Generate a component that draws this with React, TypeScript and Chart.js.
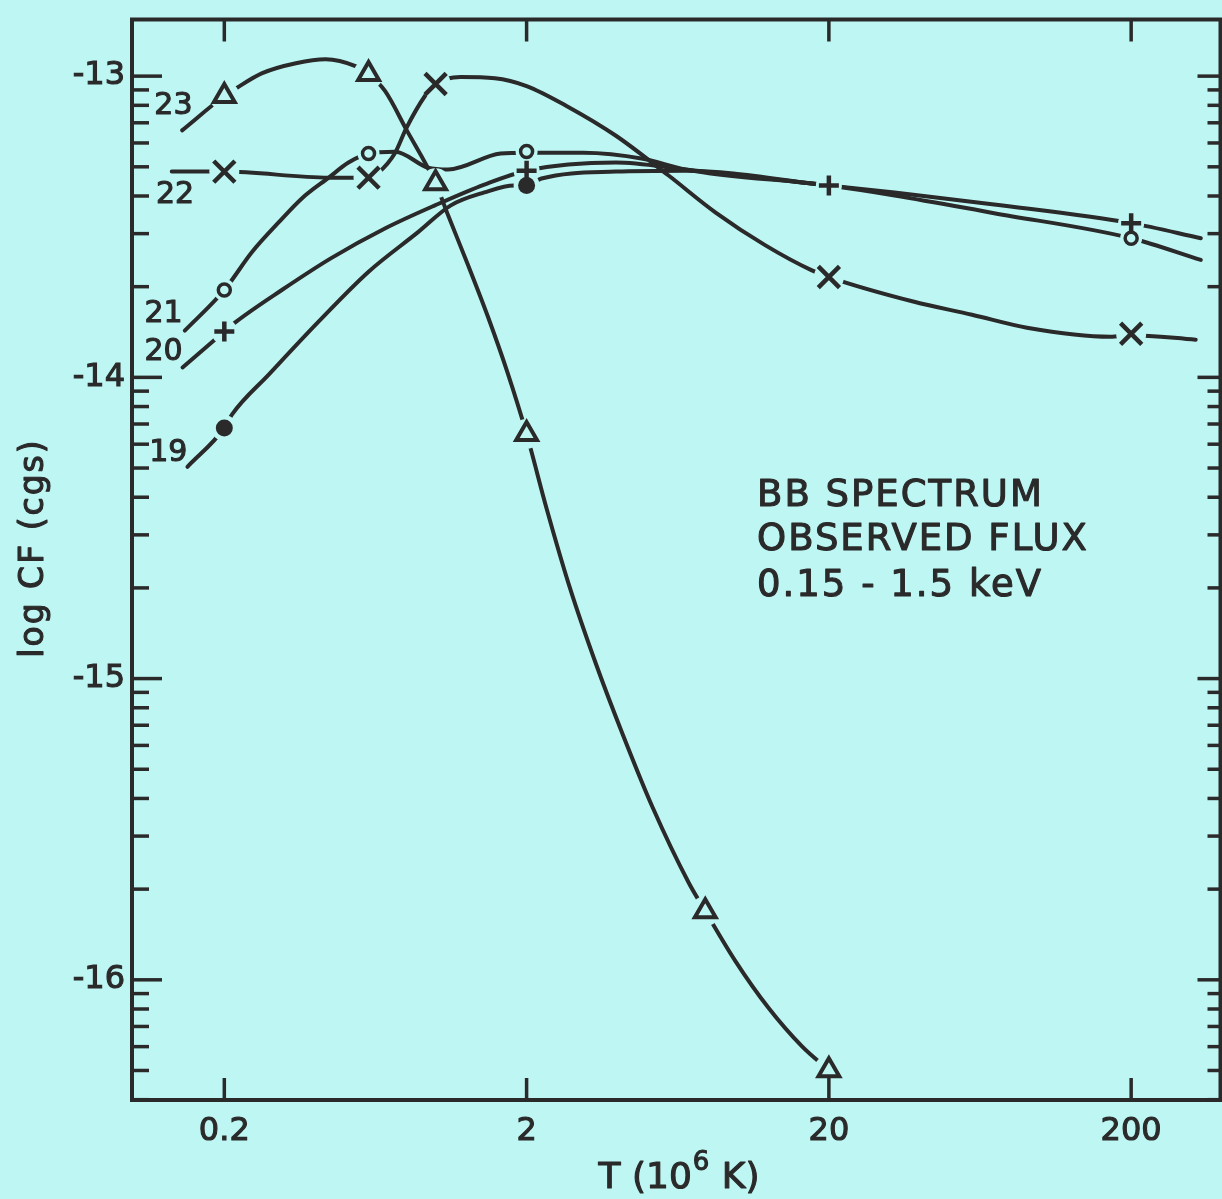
import { useEffect, useRef } from 'react';
import { Chart, registerables } from 'chart.js';

Chart.register(...registerables);

const BG = '#bef6f3';
const INK = '#2a2a2a';
const FONT = '"DejaVu Sans", sans-serif';

// ---- axes ----
const X_MIN = 0.099;
const X_MAX = 395;
const Y_MIN = -16.399;
const Y_MAX = -12.812;
const X_TICKS = [0.2, 2, 20, 200];
const Y_MAJOR = [-17, -16, -15, -14, -13];
const Y_MINOR_FACTORS = [2, 3, 4, 5, 6, 7, 8, 9];

// ---- curve 23 (triangles) ----
const c23T = [0.145, 0.2, 0.219, 0.267, 0.345, 0.433, 0.543, 0.6, 0.681, 0.798, 1.0, 1.1, 1.28, 1.49, 1.72, 2, 2.33, 2.77, 3.4, 4.17, 5.23, 6.87, 7.8, 9.8, 12.6, 16.3, 20];
const c23V = [-13.18, -13.066, -13.04, -12.99, -12.957, -12.944, -12.967, -12.993, -13.05, -13.175, -13.356, -13.462, -13.627, -13.799, -13.977, -14.188, -14.436, -14.693, -14.954, -15.188, -15.429, -15.677, -15.772, -15.937, -16.092, -16.221, -16.3];
const m23T = [0.2, 0.6, 1, 2, 7.8, 20];
const m23V = [-13.066, -12.993, -13.356, -14.188, -15.772, -16.3];

// ---- curve 22 (crosses) ----
const c22T = [0.134, 0.2, 0.443, 0.6, 0.647, 0.735, 0.798, 0.922, 1.0, 1.21, 1.57, 2, 2.71, 3.95, 5.9, 8.42, 12.3, 17.5, 20, 38.3, 59.5, 90.4, 170.6, 200, 327];
const c22V = [-13.317, -13.317, -13.337, -13.337, -13.32, -13.254, -13.175, -13.066, -13.026, -13.003, -13.007, -13.033, -13.099, -13.198, -13.33, -13.452, -13.561, -13.644, -13.667, -13.749, -13.792, -13.835, -13.865, -13.86, -13.875];
const m22T = [0.2, 0.6, 1, 20, 200];
const m22V = [-13.317, -13.337, -13.026, -13.667, -13.855];

// ---- curve 21 (open circles) ----
const c21T = [0.148, 0.2, 0.247, 0.303, 0.361, 0.443, 0.515, 0.6, 0.735, 0.944, 1.1, 1.64, 2, 3.08, 4.85, 6.7, 20, 33, 70.4, 200, 340];
const c21V = [-13.845, -13.71, -13.584, -13.485, -13.406, -13.337, -13.287, -13.257, -13.251, -13.304, -13.31, -13.257, -13.254, -13.254, -13.274, -13.31, -13.363, -13.396, -13.455, -13.538, -13.61];
const m21T = [0.2, 0.6, 2, 200];
const m21V = [-13.71, -13.257, -13.25, -13.538];

// ---- curve 20 (plus) ----
const c20T = [0.1455, 0.2, 0.219, 0.31, 0.45, 0.682, 0.995, 1.45, 2, 3.95, 6.7, 20, 33, 70.4, 200, 340];
const c20V = [-13.967, -13.848, -13.815, -13.71, -13.605, -13.505, -13.429, -13.36, -13.314, -13.287, -13.31, -13.363, -13.386, -13.426, -13.488, -13.538];
const m20T = [0.2, 2, 20, 200];
const m20V = [-13.848, -13.314, -13.363, -13.488];

// ---- curve 19 (filled circles) ----
const c19T = [0.151, 0.2, 0.2125, 0.281, 0.41, 0.599, 0.875, 1.123, 1.45, 1.82, 2, 2.24, 3.95, 6.7, 20];
const c19V = [-14.297, -14.168, -14.122, -13.99, -13.815, -13.65, -13.518, -13.429, -13.386, -13.363, -13.363, -13.34, -13.317, -13.314, -13.363];
const m19T = [0.2, 2];
const m19V = [-14.168, -13.363];

// ---- text ----
const CURVE_LABELS = ['23', '22', '21', '20', '19'];
const LABEL_T = [0.157, 0.159, 0.1455, 0.1455, 0.151];
const LABEL_V = [-13.125, -13.422, -13.815, -13.941, -14.277];
const NOTE_LINES = ['BB SPECTRUM', 'OBSERVED FLUX', '0.15 - 1.5 keV'];
const NOTE_T = 11.57;
const NOTE_V = [-14.426, -14.574, -14.726];
const X_TITLE = ['T (10', '6', ' K)'];
const Y_TITLE = 'log CF (cgs)';

const pts = (t: number[], v: number[]) => t.map((x, i) => ({ x, y: v[i] }));

type MarkStyle = { style: string; radius: number; halo: number; fill: string; bw: number };
const CURVES: { t: number[]; v: number[]; mt: number[]; mv: number[]; s: MarkStyle }[] = [
  { t: c23T, v: c23V, mt: m23T, mv: m23V, s: { style: 'triangle', radius: 12, halo: 15, fill: BG, bw: 4 } },
  { t: c22T, v: c22V, mt: m22T, mv: m22V, s: { style: 'crossRot', radius: 15, halo: 15, fill: BG, bw: 4.5 } },
  { t: c21T, v: c21V, mt: m21T, mv: m21V, s: { style: 'circle', radius: 6, halo: 11, fill: BG, bw: 3.5 } },
  { t: c20T, v: c20V, mt: m20T, mv: m20V, s: { style: 'cross', radius: 10, halo: 13, fill: BG, bw: 4.5 } },
  { t: c19T, v: c19V, mt: m19T, mv: m19V, s: { style: 'circle', radius: 8.5, halo: 13, fill: INK, bw: 0 } },
];

function buildDatasets() {
  const ds: any[] = [];
  CURVES.forEach((c) => {
    ds.push({
      type: 'line',
      data: pts(c.t, c.v),
      borderColor: INK,
      borderWidth: 4,
      borderCapStyle: 'round',
      borderJoinStyle: 'round',
      cubicInterpolationMode: 'monotone',
      pointRadius: 0,
      fill: false,
      order: 3,
    });
    ds.push({
      type: 'line',
      data: pts(c.mt, c.mv),
      showLine: false,
      pointStyle: 'circle',
      pointRadius: c.s.halo,
      pointBackgroundColor: BG,
      pointBorderWidth: 0,
      pointBorderColor: BG,
      order: 2,
    });
  });
  CURVES.forEach((c) => {
    ds.push({
      type: 'line',
      data: pts(c.mt, c.mv),
      showLine: false,
      pointStyle: c.s.style,
      pointRadius: c.s.radius,
      pointBackgroundColor: c.s.fill,
      pointBorderColor: INK,
      pointBorderWidth: c.s.bw,
      order: 1,
    });
  });
  return ds;
}

const framePlugin = {
  id: 'frame',
  beforeDraw(chart: any) {
    const { ctx, width, height } = chart;
    ctx.save();
    ctx.fillStyle = BG;
    ctx.fillRect(0, 0, width, height);
    ctx.restore();
  },
  afterDraw(chart: any) {
    const { ctx, chartArea: a } = chart;
    const x = chart.scales.x;
    const y = chart.scales.y;
    ctx.save();
    ctx.strokeStyle = INK;
    ctx.fillStyle = INK;
    const seg = (x1: number, y1: number, x2: number, y2: number) => {
      ctx.beginPath();
      ctx.moveTo(x1, y1);
      ctx.lineTo(x2, y2);
      ctx.stroke();
    };
    // frame
    ctx.lineWidth = 4;
    ctx.lineCap = 'square';
    ctx.beginPath();
    ctx.moveTo(a.left, a.top);
    ctx.lineTo(a.right, a.top);
    ctx.lineTo(a.right, a.bottom);
    ctx.lineTo(a.left, a.bottom);
    ctx.closePath();
    ctx.stroke();
    // ticks
    ctx.lineWidth = 3.5;
    ctx.lineCap = 'butt';
    y.ticks.forEach((t: any) => {
      const p = y.getPixelForValue(t.value);
      const major = Number.isInteger(t.value);
      seg(a.left, p, a.left + (major ? 30 : 17), p);
      seg(a.right - (major ? 23 : 13), p, a.right, p);
    });
    x.ticks.forEach((t: any) => {
      const p = x.getPixelForValue(t.value);
      seg(p, a.bottom, p, a.bottom - 22);
      seg(p, a.top, p, a.top + 22);
    });

    const setFont = (size: number, spacing: number) => {
      ctx.font = `${size}px ${FONT}`;
      ctx.letterSpacing = `${spacing}px`;
    };
    const put = (s: string, px: number, py: number) => {
      ctx.fillText(s, px, py);
      ctx.strokeText(s, px, py);
    };
    ctx.textBaseline = 'alphabetic';
    ctx.lineWidth = 1.1;
    ctx.lineJoin = 'round';

    // curve labels
    setFont(30, 0);
    ctx.textAlign = 'right';
    CURVE_LABELS.forEach((s, i) => {
      put(s, x.getPixelForValue(LABEL_T[i]), y.getPixelForValue(LABEL_V[i]));
    });

    // note
    setFont(37, 2);
    ctx.textAlign = 'left';
    NOTE_LINES.forEach((s, i) => {
      put(s, x.getPixelForValue(NOTE_T), y.getPixelForValue(NOTE_V[i]));
    });

    // x title
    setFont(36, 0);
    const w1 = ctx.measureText(X_TITLE[0]).width;
    const w3 = ctx.measureText(X_TITLE[2]).width;
    setFont(26, 0);
    const w2 = ctx.measureText(X_TITLE[1]).width;
    const total = w1 + w2 + w3 + 2;
    let sx = 679 - total / 2;
    const base = a.bottom + 88;
    setFont(36, 0);
    put(X_TITLE[0], sx, base);
    sx += w1 + 1;
    setFont(26, 0);
    put(X_TITLE[1], sx, base - 18);
    sx += w2 + 1;
    setFont(36, 0);
    put(X_TITLE[2], sx, base);

    // y title
    ctx.save();
    ctx.translate(43, 548);
    ctx.rotate(-Math.PI / 2);
    setFont(33, 2);
    ctx.textAlign = 'center';
    put(Y_TITLE, 0, 0);
    ctx.restore();

    ctx.letterSpacing = '0px';
    ctx.restore();
  },
};

export default function App() {
  const ref = useRef<HTMLCanvasElement>(null);
  useEffect(() => {
    document.body.style.margin = '0';
    document.body.style.background = BG;
    const chart = new Chart(ref.current as HTMLCanvasElement, {
      type: 'line',
      data: { datasets: buildDatasets() },
      options: {
        animation: false,
        responsive: false,
        devicePixelRatio: 1,
        events: [],
        layout: { padding: { top: 13, right: 12, bottom: 0, left: 0 } },
        plugins: { legend: { display: false }, tooltip: { enabled: false } },
        scales: {
          x: {
            type: 'logarithmic',
            min: X_MIN,
            max: X_MAX,
            afterBuildTicks: (s: any) => {
              s.ticks = X_TICKS.map((v) => ({ value: v }));
            },
            afterFit: (s: any) => {
              s.height = 99;
              s.paddingLeft = 0;
              s.paddingRight = 0;
            },
            grid: { display: false, drawTicks: false },
            border: { display: false },
            ticks: {
              autoSkip: false,
              maxRotation: 0,
              minRotation: 0,
              padding: 12,
              color: INK,
              textStrokeColor: INK,
              textStrokeWidth: 1.1,
              font: { family: FONT, size: 32 },
              callback: (v: any) => String(v),
            },
          },
          y: {
            type: 'linear',
            min: Y_MIN,
            max: Y_MAX,
            afterBuildTicks: (s: any) => {
              const vals: number[] = [];
              Y_MAJOR.forEach((m) => {
                if (m >= Y_MIN && m <= Y_MAX) vals.push(m);
                Y_MINOR_FACTORS.forEach((k) => {
                  const v = m + Math.log10(k);
                  if (v >= Y_MIN && v <= Y_MAX) vals.push(v);
                });
              });
              vals.sort((p, q) => p - q);
              s.ticks = vals.map((v) => ({ value: v }));
            },
            afterFit: (s: any) => {
              s.width = 132;
              s.paddingTop = 0;
              s.paddingBottom = 0;
            },
            grid: { display: false, drawTicks: false },
            border: { display: false },
            ticks: {
              autoSkip: false,
              padding: 7,
              color: INK,
              textStrokeColor: INK,
              textStrokeWidth: 1.1,
              font: { family: FONT, size: 32 },
              callback: (v: any) => (Number.isInteger(v) ? String(v) : ''),
            },
          },
        },
      } as any,
      plugins: [framePlugin],
    });
    return () => chart.destroy();
  }, []);
  return (
    <div style={{ position: 'absolute', left: 0, top: 0, width: 1222, height: 1199, overflow: 'hidden', background: BG }}>
      <canvas ref={ref} width={1240} height={1199} style={{ display: 'block', width: 1240, height: 1199 }} />
    </div>
  );
}
